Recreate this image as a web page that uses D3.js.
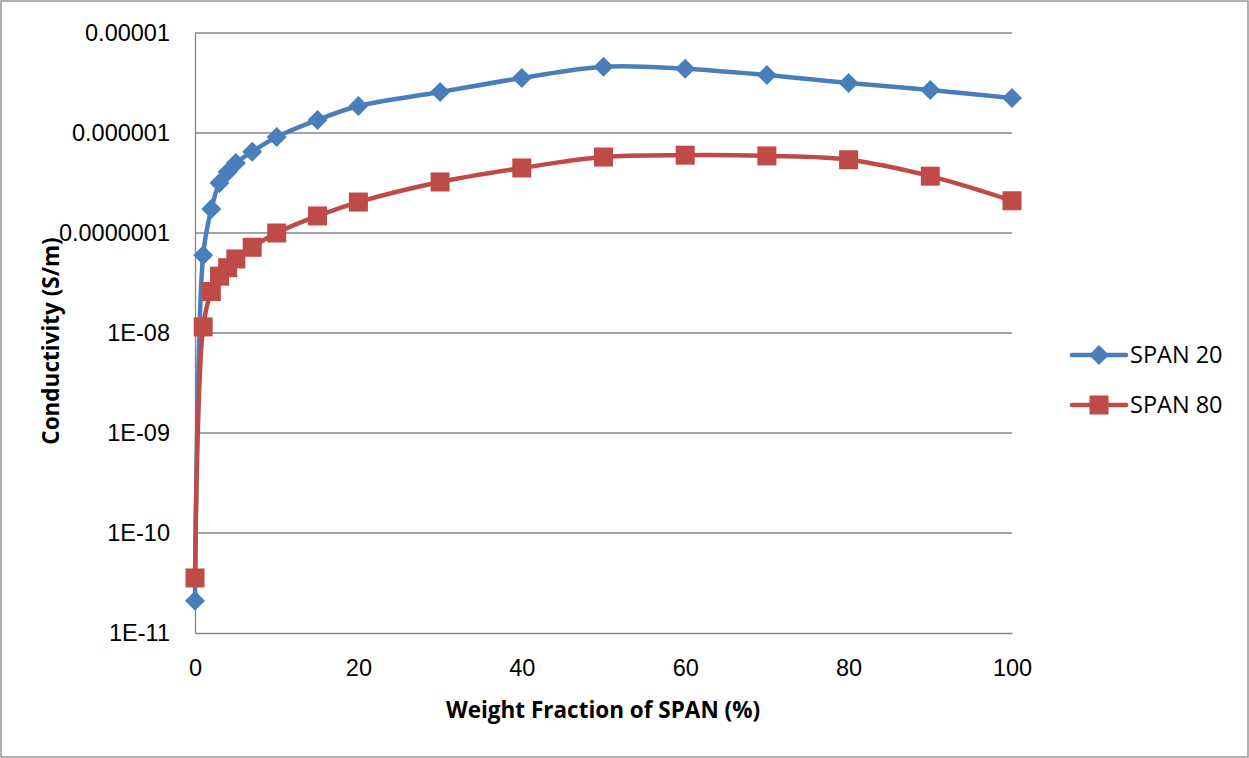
<!DOCTYPE html>
<html>
<head>
<meta charset="utf-8">
<script src="https://cdn.jsdelivr.net/npm/d3@7"></script>
<style>
  html, body { margin: 0; padding: 0; background: #fff; }
  svg { display: block; font-family: "Open Sans", "Liberation Sans", Arial, sans-serif; }
</style>
</head>
<body>
<svg id="chart" width="1249" height="758"></svg>
<script>
// Weight fraction of SPAN (%)
const fractions = [0, 1, 2, 3, 4, 5, 7, 10, 15, 20, 30, 40, 50, 60, 70, 80, 90, 100];
// Conductivity (S/m) for each blend
const span20 = [2.1e-11, 6.0e-8, 1.74e-7, 3.16e-7, 4.07e-7, 5.0e-7, 6.5e-7, 9.1e-7, 1.35e-6, 1.86e-6,
                2.57e-6, 3.55e-6, 4.6e-6, 4.4e-6, 3.8e-6, 3.16e-6, 2.69e-6, 2.24e-6];
const span80 = [3.55e-11, 1.15e-8, 2.6e-8, 3.7e-8, 4.5e-8, 5.5e-8, 7.2e-8, 1.0e-7, 1.48e-7, 2.04e-7,
                3.24e-7, 4.47e-7, 5.75e-7, 6.0e-7, 5.9e-7, 5.4e-7, 3.7e-7, 2.1e-7];
const seriesNames = ["SPAN 20", "SPAN 80"];
const yTickValues = [1e-11, 1e-10, 1e-9, 1e-8, 1e-7, 1e-6, 1e-5];
const yTickLabels = ["1E-11", "1E-10", "1E-09", "1E-08", "0.0000001", "0.000001", "0.00001"];
const xTickValues = [0, 20, 40, 60, 80, 100];

const svg = d3.select("#chart");
const W = 1249, H = 758;
const plot = { left: 195, right: 1012, top: 33, bottom: 633 };

// chart border
svg.append("rect").attr("x", 1).attr("y", 1).attr("width", W - 2).attr("height", H - 2)
  .attr("fill", "#fff").attr("stroke", "#868686").attr("stroke-width", 1.3);

const x = d3.scaleLinear().domain([0, 100]).range([plot.left, plot.right]);
const y = d3.scaleLog().domain([1e-11, 1e-5]).range([plot.bottom, plot.top]);

// horizontal gridlines
svg.append("g").selectAll("line").data(yTickValues.slice(1)).join("line")
  .attr("x1", plot.left).attr("x2", plot.right)
  .attr("y1", d => y(d)).attr("y2", d => y(d))
  .attr("stroke", "#868686").attr("stroke-width", 1.3);

// y axis
const yAxis = d3.axisLeft(y).tickValues(yTickValues)
  .tickFormat((d, i) => yTickLabels[i]).tickSize(0).tickPadding(25);
const gy = svg.append("g").attr("transform", `translate(${plot.left},0)`).call(yAxis);
gy.select(".domain").attr("stroke", "#868686").attr("stroke-width", 1.3);
gy.selectAll("text").attr("font-size", 23.5).attr("fill", "#000");

// x axis
const xAxis = d3.axisBottom(x).tickValues(xTickValues).tickSize(0).tickPadding(26);
const gx = svg.append("g").attr("transform", `translate(0,${plot.bottom})`).call(xAxis);
gx.select(".domain").attr("stroke", "#868686").attr("stroke-width", 1.3);
gx.selectAll("text").attr("font-size", 23.5).attr("fill", "#000");

// axis titles
svg.append("text").attr("x", 603).attr("y", 718)
  .attr("text-anchor", "middle").attr("font-size", 22.5).attr("font-weight", "bold")
  .text("Weight Fraction of SPAN (%)");
svg.append("text").attr("transform", "translate(59,341) rotate(-90)")
  .attr("text-anchor", "middle").attr("font-size", 22.5).attr("font-weight", "bold")
  .text("Conductivity (S/m)");

const colors = ["#4a7ebb", "#be4b48"];
const seriesData = [span20, span80];

const line = d3.line()
  .x(d => x(d[0])).y(d => y(d[1]))
  .curve(d3.curveCatmullRom.alpha(0.5));

const diamond = s => `M0,${-s}L${s},0L0,${s}L${-s},0Z`;

seriesData.forEach((vals, k) => {
  const pts = fractions.map((f, i) => [f, vals[i]]);
  const g = svg.append("g");
  g.append("path").datum(pts).attr("d", line)
    .attr("fill", "none").attr("stroke", colors[k]).attr("stroke-width", 4.5)
    .attr("stroke-linejoin", "round");
  if (k === 0) {
    g.selectAll("path.m").data(pts).join("path").attr("class", "m")
      .attr("transform", d => `translate(${x(d[0])},${y(d[1])})`)
      .attr("d", diamond(10)).attr("fill", colors[k]);
  } else {
    g.selectAll("rect.m").data(pts).join("rect").attr("class", "m")
      .attr("x", d => x(d[0]) - 9.5).attr("y", d => y(d[1]) - 9.5)
      .attr("width", 19).attr("height", 19).attr("fill", colors[k]);
  }
});

// legend
const legendY = [355, 405];
seriesNames.forEach((name, k) => {
  const g = svg.append("g").attr("transform", `translate(0,${legendY[k]})`);
  g.append("line").attr("x1", 1072).attr("x2", 1126).attr("y1", 0).attr("y2", 0)
    .attr("stroke", colors[k]).attr("stroke-width", 4.5).attr("stroke-linecap", "round");
  if (k === 0) {
    g.append("path").attr("transform", "translate(1099,0)").attr("d", diamond(10)).attr("fill", colors[k]);
  } else {
    g.append("rect").attr("x", 1089.5).attr("y", -9.5).attr("width", 19).attr("height", 19).attr("fill", colors[k]);
  }
  g.append("text").attr("x", 1130).attr("y", 0).attr("dy", "0.35em")
    .attr("font-size", 23.5).attr("fill", "#000").text(name);
});
</script>
</body>
</html>
